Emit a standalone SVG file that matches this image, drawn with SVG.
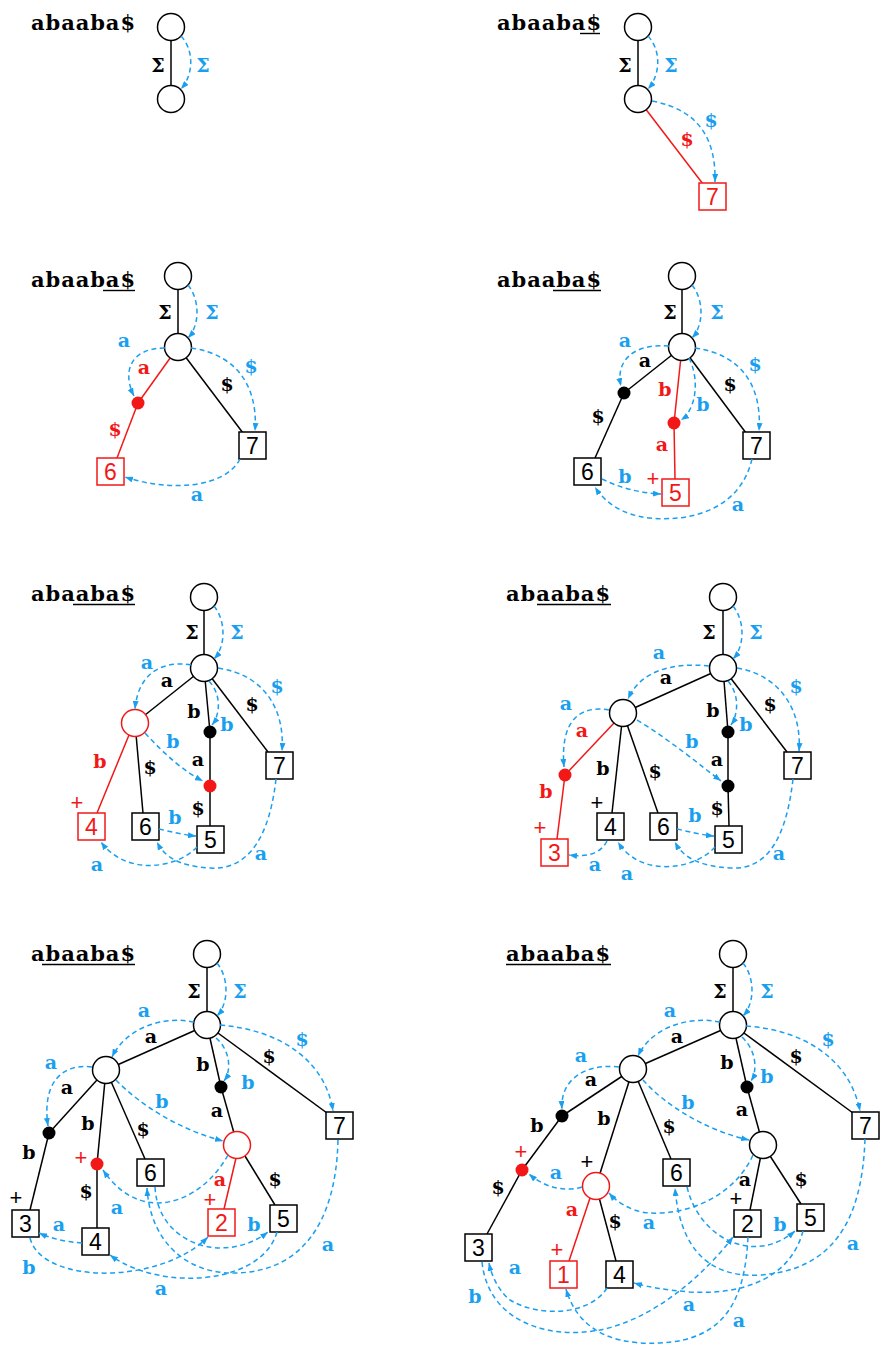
<svg xmlns="http://www.w3.org/2000/svg" width="883" height="1346" viewBox="0 0 883 1346">
<style>
.t{font-family:"DejaVu Serif","Liberation Mono",serif;font-weight:bold;font-size:21px;fill:#000}
.u{stroke:#000;stroke-width:1.4}
.e line{stroke:#000;stroke-width:1.5}
.e line.r{stroke:#f21818}
.n{fill:#fff;stroke:#000;stroke-width:1.5}
.nr{fill:#fff;stroke:#f21818;stroke-width:1.5}
.d{fill:#000}
.dr{fill:#f21818}
.bx{fill:#fff;stroke:#000;stroke-width:1.5}
.bxr{fill:#fff;stroke:#f21818;stroke-width:1.5}
.num{font-family:"Liberation Sans",Arial,sans-serif;font-size:23px;text-anchor:middle;fill:#000}
.numr{font-family:"Liberation Sans",Arial,sans-serif;font-size:23px;text-anchor:middle;fill:#f21818}
.s{fill:none;stroke:#1a9ff0;stroke-width:1.5;stroke-dasharray:5 3.5;marker-end:url(#ah)}
.l{font-family:"DejaVu Serif","Liberation Mono",serif;font-weight:bold;font-size:19px;text-anchor:middle}
.k{fill:#000}.b{fill:#1a9ff0}.r{fill:#f21818}
.pl{font-family:"Liberation Sans",Arial,sans-serif;font-size:22px;text-anchor:middle}
</style>
<defs>
<marker id="ah" markerWidth="8" markerHeight="6" refX="8" refY="3" orient="auto" markerUnits="userSpaceOnUse"><path d="M0,0 L8,3 L0,6 z" fill="#1a9ff0"/></marker>
</defs>

<!-- Panel 1 -->
<g id="p1">
<text class="t" x="31" y="30" textLength="104" lengthAdjust="spacing">abaaba$</text>
<g id="p1-edges" class="e"><line x1="171" y1="27" x2="171" y2="99"/></g>
<g id="p1-root"><circle class="n" cx="171" cy="27" r="13.5"/></g>
<g id="p1-n1"><circle class="n" cx="171" cy="99" r="13.5"/></g>
<g id="p1-links"><path class="s" d="M181,36 C194,50 194,74 181,89"/></g>
<g class="l"><text class="k" x="158" y="72">Σ</text><text class="b" x="203" y="72">Σ</text></g>
</g>

<!-- Panel 2 -->
<g id="p2">
<text class="t" x="497" y="30" textLength="104" lengthAdjust="spacing">abaaba$</text>
<line class="u" x1="580" y1="33.5" x2="600" y2="33.5"/>
<g id="p2-edges" class="e"><line x1="638" y1="27" x2="638" y2="99"/><line class="r" x1="638" y1="99" x2="703" y2="184"/></g>
<g id="p2-root"><circle class="n" cx="638" cy="27" r="13.5"/></g>
<g id="p2-n1"><circle class="n" cx="638" cy="99" r="13.5"/></g>
<g id="p2-leaf7"><rect class="bxr" x="699" y="183" width="27" height="27"/><text class="numr" x="712.5" y="205">7</text></g>
<g id="p2-links"><path class="s" d="M648,36 C661,50 661,74 648,89"/><path class="s" d="M652,101 C700,110 716,140 715,182"/></g>
<g class="l"><text class="k" x="625" y="72">Σ</text><text class="b" x="671" y="72">Σ</text><text class="r" x="687" y="146">$</text><text class="b" x="711" y="127">$</text></g>
</g>

<!-- Panel 3 -->
<g id="p3">
<text class="t" x="31" y="287" textLength="104" lengthAdjust="spacing">abaaba$</text>
<line class="u" x1="103" y1="290.5" x2="135" y2="290.5"/>
<g id="p3-edges" class="e">
<line x1="178" y1="276" x2="178" y2="347"/>
<line class="r" x1="178" y1="347" x2="138" y2="403"/>
<line class="r" x1="138" y1="403" x2="117" y2="458"/>
<line x1="178" y1="347" x2="243" y2="433"/>
</g>
<g id="p3-root"><circle class="n" cx="178" cy="276" r="13.5"/></g>
<g id="p3-n1"><circle class="n" cx="178" cy="347" r="13.5"/></g>
<g id="p3-da"><circle class="dr" cx="138" cy="403" r="6.5"/></g>
<g id="p3-leaf6"><rect class="bxr" x="97" y="458" width="27" height="27"/><text class="numr" x="110.5" y="480">6</text></g>
<g id="p3-leaf7"><rect class="bx" x="239" y="432" width="27" height="27"/><text class="num" x="252.5" y="454">7</text></g>
<g id="p3-links">
<path class="s" d="M188,285 C200,300 200,325 188,338"/>
<path class="s" d="M165,348 C130,348 122,372 134,396"/>
<path class="s" d="M191,348 C240,355 258,390 255,431"/>
<path class="s" d="M240,459 C225,488 170,492 125,477"/>
</g>
<g class="l"><text class="k" x="165" y="319">Σ</text><text class="b" x="212" y="319">Σ</text><text class="r" x="144" y="374">a</text><text class="r" x="115" y="436">$</text><text class="k" x="227" y="391">$</text><text class="b" x="124" y="347">a</text><text class="b" x="251" y="373">$</text><text class="b" x="197" y="501">a</text></g>
</g>

<!-- Panel 4 -->
<g id="p4">
<text class="t" x="497" y="287" textLength="104" lengthAdjust="spacing">abaaba$</text>
<line class="u" x1="553" y1="290.5" x2="601" y2="290.5"/>
<g id="p4-edges" class="e">
<line x1="682" y1="276" x2="682" y2="347"/>
<line x1="682" y1="347" x2="624" y2="393"/>
<line x1="624" y1="393" x2="595" y2="458"/>
<line class="r" x1="682" y1="347" x2="674" y2="423"/>
<line class="r" x1="674" y1="423" x2="675" y2="479"/>
<line x1="682" y1="347" x2="746" y2="433"/>
</g>
<g id="p4-root"><circle class="n" cx="682" cy="276" r="13.5"/></g>
<g id="p4-n1"><circle class="n" cx="682" cy="347" r="13.5"/></g>
<g id="p4-da"><circle class="d" cx="624" cy="393" r="6.5"/></g>
<g id="p4-db"><circle class="dr" cx="674" cy="423" r="6.5"/></g>
<g id="p4-leaf6"><rect class="bx" x="574" y="458" width="27" height="27"/><text class="num" x="587.5" y="480">6</text></g>
<g id="p4-leaf5"><rect class="bxr" x="662" y="479" width="27" height="27"/><text class="numr" x="675.5" y="501">5</text></g>
<g id="p4-leaf7"><rect class="bx" x="743" y="432" width="27" height="27"/><text class="num" x="756.5" y="454">7</text></g>
<g id="p4-links">
<path class="s" d="M692,285 C704,300 704,325 692,338"/>
<path class="s" d="M669,346 C635,343 615,360 621,386"/>
<path class="s" d="M689,358 C700,380 696,410 681,420"/>
<path class="s" d="M695,348 C745,355 762,390 759,431"/>
<path class="s" d="M602,479 C620,488 640,493 661,494"/>
<path class="s" d="M752,459 C740,510 690,522 650,518 C620,515 603,500 595,487"/>
</g>
<g class="l"><text class="k" x="670" y="319">Σ</text><text class="b" x="717" y="319">Σ</text><text class="k" x="645" y="367">a</text><text class="r" x="665" y="396">b</text><text class="b" x="703" y="411">b</text><text class="k" x="598" y="423">$</text><text class="r" x="662" y="451">a</text><text class="k" x="730" y="391">$</text><text class="b" x="755" y="371">$</text><text class="b" x="625" y="347">a</text><text class="b" x="625" y="483">b</text><text class="b" x="738" y="511">a</text></g>
<text class="pl r" x="653" y="486">+</text>
</g>

<!-- Panel 5 -->
<g id="p5">
<text class="t" x="31" y="601" textLength="104" lengthAdjust="spacing">abaaba$</text>
<line class="u" x1="73" y1="604.5" x2="135" y2="604.5"/>
<g id="p5-edges" class="e">
<line x1="204" y1="597" x2="204" y2="668"/>
<line x1="204" y1="668" x2="135" y2="723"/>
<line x1="204" y1="668" x2="210" y2="732"/>
<line x1="210" y1="732" x2="210" y2="786"/>
<line x1="210" y1="786" x2="210" y2="826"/>
<line x1="204" y1="668" x2="268" y2="752"/>
<line class="r" x1="129" y1="735" x2="97" y2="813"/>
<line x1="135" y1="723" x2="143" y2="813"/>
</g>
<g id="p5-root"><circle class="n" cx="204" cy="597" r="13.5"/></g>
<g id="p5-n1"><circle class="n" cx="204" cy="668" r="13.5"/></g>
<g id="p5-na"><circle class="nr" cx="135" cy="723" r="13.5"/></g>
<g id="p5-da"><circle class="d" cx="210" cy="732" r="6.5"/></g>
<g id="p5-db"><circle class="dr" cx="210" cy="786" r="6.5"/></g>
<g id="p5-leaf4"><rect class="bxr" x="78" y="813" width="27" height="27"/><text class="numr" x="91.5" y="835">4</text></g>
<g id="p5-leaf6"><rect class="bx" x="132" y="813" width="27" height="27"/><text class="num" x="145.5" y="835">6</text></g>
<g id="p5-leaf5"><rect class="bx" x="197" y="826" width="27" height="27"/><text class="num" x="210.5" y="848">5</text></g>
<g id="p5-leaf7"><rect class="bx" x="266" y="752" width="27" height="27"/><text class="num" x="279.5" y="774">7</text></g>
<g id="p5-links">
<path class="s" d="M214,606 C226,621 226,646 214,659"/>
<path class="s" d="M191,665 C160,660 138,675 135,709"/>
<path class="s" d="M209,681 C222,695 220,715 212,725"/>
<path class="s" d="M218,668 C265,675 285,710 282,751"/>
<path class="s" d="M145,733 C165,755 185,772 203,781"/>
<path class="s" d="M159,829 C172,832 185,835 196,836"/>
<path class="s" d="M197,847 C175,870 125,875 101,842"/>
<path class="s" d="M276,779 C268,850 240,870 210,868 C180,866 165,858 157,842"/>
</g>
<g class="l"><text class="k" x="192" y="639">Σ</text><text class="b" x="237" y="639">Σ</text><text class="k" x="167" y="687">a</text><text class="k" x="194" y="718">b</text><text class="b" x="227" y="731">b</text><text class="k" x="198" y="766">a</text><text class="k" x="198" y="815">$</text><text class="k" x="252" y="711">$</text><text class="b" x="277" y="693">$</text><text class="r" x="100" y="768">b</text><text class="k" x="150" y="774">$</text><text class="b" x="147" y="669">a</text><text class="b" x="173" y="748">b</text><text class="b" x="175" y="824">b</text><text class="b" x="97" y="871">a</text><text class="b" x="261" y="860">a</text></g>
<text class="pl r" x="77" y="810">+</text>
</g>

<!-- Panel 6 -->
<g id="p6">
<text class="t" x="506" y="601" textLength="104" lengthAdjust="spacing">abaaba$</text>
<line class="u" x1="537" y1="604.5" x2="611" y2="604.5"/>
<g id="p6-edges" class="e">
<line x1="723" y1="597" x2="723" y2="668"/>
<line x1="723" y1="668" x2="623" y2="713"/>
<line x1="723" y1="668" x2="728" y2="732"/>
<line x1="728" y1="732" x2="728" y2="786"/>
<line x1="728" y1="786" x2="729" y2="826"/>
<line x1="723" y1="668" x2="787" y2="752"/>
<line class="r" x1="614" y1="723" x2="565" y2="775"/>
<line class="r" x1="565" y1="775" x2="557" y2="839"/>
<line x1="623" y1="713" x2="612" y2="813"/>
<line x1="623" y1="713" x2="658" y2="813"/>
</g>
<g id="p6-root"><circle class="n" cx="723" cy="597" r="13.5"/></g>
<g id="p6-n1"><circle class="n" cx="723" cy="668" r="13.5"/></g>
<g id="p6-na"><circle class="n" cx="623" cy="713" r="13.5"/></g>
<g id="p6-da"><circle class="d" cx="728" cy="732" r="6.5"/></g>
<g id="p6-db"><circle class="d" cx="728" cy="786" r="6.5"/></g>
<g id="p6-dc"><circle class="dr" cx="565" cy="775" r="6.5"/></g>
<g id="p6-leaf3"><rect class="bxr" x="541" y="839" width="27" height="27"/><text class="numr" x="554.5" y="861">3</text></g>
<g id="p6-leaf4"><rect class="bx" x="597" y="813" width="27" height="27"/><text class="num" x="610.5" y="835">4</text></g>
<g id="p6-leaf6"><rect class="bx" x="650" y="813" width="27" height="27"/><text class="num" x="663.5" y="835">6</text></g>
<g id="p6-leaf5"><rect class="bx" x="715" y="826" width="27" height="27"/><text class="num" x="728.5" y="848">5</text></g>
<g id="p6-leaf7"><rect class="bx" x="784" y="752" width="27" height="27"/><text class="num" x="797.5" y="774">7</text></g>
<g id="p6-links">
<path class="s" d="M733,606 C745,621 745,646 733,659"/>
<path class="s" d="M709,666 C670,662 640,672 628,699"/>
<path class="s" d="M609,710 C580,705 560,720 564,767"/>
<path class="s" d="M728,681 C740,695 738,715 731,725"/>
<path class="s" d="M737,668 C780,675 802,710 799,751"/>
<path class="s" d="M637,720 C670,740 700,765 721,781"/>
<path class="s" d="M677,829 C690,832 703,835 714,836"/>
<path class="s" d="M607,841 C600,855 585,857 569,855"/>
<path class="s" d="M715,847 C695,870 640,878 618,842"/>
<path class="s" d="M793,779 C785,850 760,870 730,868 C700,866 683,858 675,842"/>
</g>
<g class="l"><text class="k" x="709" y="639">Σ</text><text class="b" x="756" y="639">Σ</text><text class="k" x="666" y="684">a</text><text class="k" x="713" y="717">b</text><text class="b" x="746" y="731">b</text><text class="k" x="717" y="766">a</text><text class="k" x="717" y="815">$</text><text class="k" x="770" y="711">$</text><text class="b" x="796" y="693">$</text><text class="r" x="582" y="737">a</text><text class="r" x="546" y="798">b</text><text class="k" x="603" y="775">b</text><text class="k" x="655" y="778">$</text><text class="b" x="659" y="659">a</text><text class="b" x="566" y="710">a</text><text class="b" x="692" y="748">b</text><text class="b" x="695" y="822">b</text><text class="b" x="595" y="871">a</text><text class="b" x="627" y="880">a</text><text class="b" x="779" y="860">a</text></g>
<text class="pl r" x="540" y="835">+</text><text class="pl k" x="597" y="810">+</text>
</g>

<!-- Panel 7 -->
<g id="p7">
<text class="t" x="31" y="961" textLength="104" lengthAdjust="spacing">abaaba$</text>
<line class="u" x1="42" y1="964.5" x2="135" y2="964.5"/>
<g id="p7-edges" class="e">
<line x1="207" y1="954" x2="207" y2="1025"/>
<line x1="207" y1="1025" x2="106" y2="1070"/>
<line x1="207" y1="1025" x2="221" y2="1087"/>
<line x1="221" y1="1087" x2="234" y2="1133"/>
<line x1="207" y1="1025" x2="327" y2="1113"/>
<line x1="106" y1="1070" x2="49" y2="1133"/>
<line x1="49" y1="1133" x2="30" y2="1210"/>
<line x1="106" y1="1070" x2="97" y2="1164"/>
<line x1="97" y1="1164" x2="97" y2="1228"/>
<line x1="106" y1="1070" x2="145" y2="1159"/>
<line class="r" x1="236" y1="1158" x2="224" y2="1209"/>
<line x1="245" y1="1156" x2="275" y2="1205"/>
</g>
<g id="p7-root"><circle class="n" cx="207" cy="954" r="13.5"/></g>
<g id="p7-n1"><circle class="n" cx="207" cy="1025" r="13.5"/></g>
<g id="p7-na"><circle class="n" cx="106" cy="1070" r="13.5"/></g>
<g id="p7-nb"><circle class="nr" cx="237" cy="1145" r="13.5"/></g>
<g id="p7-da"><circle class="d" cx="221" cy="1087" r="6.5"/></g>
<g id="p7-db"><circle class="d" cx="49" cy="1133" r="6.5"/></g>
<g id="p7-dc"><circle class="dr" cx="97" cy="1164" r="6.5"/></g>
<g id="p7-leaf3"><rect class="bx" x="12" y="1210" width="27" height="27"/><text class="num" x="25.5" y="1232">3</text></g>
<g id="p7-leaf4"><rect class="bx" x="82" y="1228" width="27" height="27"/><text class="num" x="95.5" y="1250">4</text></g>
<g id="p7-leaf6"><rect class="bx" x="137" y="1159" width="27" height="27"/><text class="num" x="150.5" y="1181">6</text></g>
<g id="p7-leaf2"><rect class="bxr" x="208" y="1209" width="27" height="27"/><text class="numr" x="221.5" y="1231">2</text></g>
<g id="p7-leaf5"><rect class="bx" x="270" y="1205" width="27" height="27"/><text class="num" x="283.5" y="1227">5</text></g>
<g id="p7-leaf7"><rect class="bx" x="326" y="1112" width="27" height="27"/><text class="num" x="339.5" y="1134">7</text></g>
<g id="p7-links">
<path class="s" d="M217,963 C229,978 229,1003 217,1016"/>
<path class="s" d="M194,1022 C160,1015 125,1030 112,1057"/>
<path class="s" d="M92,1067 C60,1063 42,1085 48,1126"/>
<path class="s" d="M216,1038 C230,1050 232,1070 224,1081"/>
<path class="s" d="M220,1025 C280,1030 325,1060 333,1111"/>
<path class="s" d="M116,1080 C140,1105 180,1130 223,1141"/>
<path class="s" d="M228,1155 C200,1205 140,1225 103,1170"/>
<path class="s" d="M82,1243 C65,1242 50,1238 39,1233"/>
<path class="s" d="M155,1187 C158,1245 225,1265 268,1232"/>
<path class="s" d="M277,1232 C262,1285 160,1292 110,1255"/>
<path class="s" d="M338,1140 C336,1225 300,1272 235,1273 C185,1274 150,1240 147,1188"/>
<path class="s" d="M30,1238 C42,1285 160,1285 208,1237"/>
</g>
<g class="l"><text class="k" x="194" y="998">Σ</text><text class="b" x="240" y="998">Σ</text><text class="k" x="151" y="1043">a</text><text class="k" x="203" y="1071">b</text><text class="b" x="248" y="1089">b</text><text class="k" x="217" y="1117">a</text><text class="k" x="269" y="1063">$</text><text class="b" x="302" y="1046">$</text><text class="k" x="67" y="1094">a</text><text class="k" x="29" y="1159">b</text><text class="k" x="88" y="1130">b</text><text class="k" x="86" y="1198">$</text><text class="k" x="143" y="1136">$</text><text class="r" x="220" y="1186">a</text><text class="k" x="275" y="1186">$</text><text class="b" x="144" y="1017">a</text><text class="b" x="51" y="1069">a</text><text class="b" x="162" y="1108">b</text><text class="b" x="117" y="1214">a</text><text class="b" x="59" y="1231">a</text><text class="b" x="254" y="1231">b</text><text class="b" x="328" y="1251">a</text><text class="b" x="29" y="1274">b</text><text class="b" x="161" y="1295">a</text></g>
<text class="pl k" x="16" y="1205">+</text><text class="pl r" x="81" y="1165">+</text><text class="pl r" x="210" y="1207">+</text>
</g>

<!-- Panel 8 -->
<g id="p8">
<text class="t" x="506" y="961" textLength="104" lengthAdjust="spacing">abaaba$</text>
<line class="u" x1="506" y1="964.5" x2="611" y2="964.5"/>
<g id="p8-edges" class="e">
<line x1="733" y1="954" x2="733" y2="1025"/>
<line x1="733" y1="1025" x2="633" y2="1069"/>
<line x1="733" y1="1025" x2="747" y2="1087"/>
<line x1="747" y1="1087" x2="763" y2="1145"/>
<line x1="733" y1="1025" x2="853" y2="1113"/>
<line x1="633" y1="1069" x2="562" y2="1116"/>
<line x1="562" y1="1116" x2="522" y2="1170"/>
<line x1="522" y1="1170" x2="487" y2="1234"/>
<line x1="633" y1="1069" x2="596" y2="1186"/>
<line class="r" x1="590" y1="1198" x2="569" y2="1261"/>
<line x1="596" y1="1186" x2="616" y2="1261"/>
<line x1="633" y1="1069" x2="671" y2="1159"/>
<line x1="763" y1="1145" x2="750" y2="1210"/>
<line x1="763" y1="1145" x2="801" y2="1204"/>
</g>
<g id="p8-root"><circle class="n" cx="733" cy="954" r="13.5"/></g>
<g id="p8-n1"><circle class="n" cx="733" cy="1025" r="13.5"/></g>
<g id="p8-na"><circle class="n" cx="633" cy="1069" r="13.5"/></g>
<g id="p8-nb"><circle class="n" cx="763" cy="1145" r="13.5"/></g>
<g id="p8-nc"><circle class="nr" cx="596" cy="1186" r="13.5"/></g>
<g id="p8-da"><circle class="d" cx="747" cy="1087" r="6.5"/></g>
<g id="p8-db"><circle class="d" cx="562" cy="1116" r="6.5"/></g>
<g id="p8-dc"><circle class="dr" cx="522" cy="1170" r="6.5"/></g>
<g id="p8-leaf3"><rect class="bx" x="465" y="1234" width="27" height="27"/><text class="num" x="478.5" y="1256">3</text></g>
<g id="p8-leaf1"><rect class="bxr" x="550" y="1261" width="27" height="27"/><text class="numr" x="563.5" y="1283">1</text></g>
<g id="p8-leaf4"><rect class="bx" x="606" y="1261" width="27" height="27"/><text class="num" x="619.5" y="1283">4</text></g>
<g id="p8-leaf6"><rect class="bx" x="663" y="1159" width="27" height="27"/><text class="num" x="676.5" y="1181">6</text></g>
<g id="p8-leaf2"><rect class="bx" x="734" y="1210" width="27" height="27"/><text class="num" x="747.5" y="1232">2</text></g>
<g id="p8-leaf5"><rect class="bx" x="797" y="1204" width="27" height="27"/><text class="num" x="810.5" y="1226">5</text></g>
<g id="p8-leaf7"><rect class="bx" x="852" y="1112" width="27" height="27"/><text class="num" x="865.5" y="1134">7</text></g>
<g id="p8-links">
<path class="s" d="M743,963 C755,978 755,1003 743,1016"/>
<path class="s" d="M720,1022 C685,1015 650,1030 638,1056"/>
<path class="s" d="M619,1067 C585,1063 560,1080 562,1109"/>
<path class="s" d="M742,1037 C756,1050 758,1070 751,1081"/>
<path class="s" d="M746,1026 C805,1030 850,1060 860,1111"/>
<path class="s" d="M643,1080 C665,1105 705,1130 749,1140"/>
<path class="s" d="M582,1187 C565,1192 545,1188 529,1174"/>
<path class="s" d="M753,1155 C735,1195 690,1215 650,1213 C630,1212 615,1200 609,1193"/>
<path class="s" d="M687,1187 C700,1240 755,1265 795,1231"/>
<path class="s" d="M865,1139 C862,1225 830,1270 760,1275 C710,1278 680,1250 675,1188"/>
<path class="s" d="M803,1231 C790,1280 740,1295 690,1292 C665,1290 648,1287 634,1283"/>
<path class="s" d="M607,1288 C590,1315 540,1318 510,1300 C500,1292 492,1278 489,1263"/>
<path class="s" d="M482,1262 C488,1320 545,1340 600,1330 C650,1320 700,1280 733,1237"/>
<path class="s" d="M748,1237 C745,1300 725,1340 660,1343 C600,1346 575,1320 566,1289"/>
</g>
<g class="l"><text class="k" x="720" y="998">Σ</text><text class="b" x="767" y="998">Σ</text><text class="k" x="677" y="1043">a</text><text class="k" x="727" y="1069">b</text><text class="b" x="767" y="1083">b</text><text class="k" x="742" y="1116">a</text><text class="k" x="796" y="1063">$</text><text class="b" x="828" y="1046">$</text><text class="k" x="591" y="1086">a</text><text class="k" x="537" y="1132">b</text><text class="k" x="498" y="1194">$</text><text class="k" x="604" y="1125">b</text><text class="r" x="572" y="1216">a</text><text class="k" x="615" y="1228">$</text><text class="k" x="669" y="1133">$</text><text class="k" x="745" y="1186">a</text><text class="k" x="801" y="1186">$</text><text class="b" x="670" y="1017">a</text><text class="b" x="581" y="1062">a</text><text class="b" x="688" y="1109">b</text><text class="b" x="556" y="1179">a</text><text class="b" x="649" y="1229">a</text><text class="b" x="780" y="1231">b</text><text class="b" x="853" y="1250">a</text><text class="b" x="515" y="1274">a</text><text class="b" x="475" y="1303">b</text><text class="b" x="689" y="1311">a</text><text class="b" x="739" y="1327">a</text></g>
<text class="pl r" x="521" y="1159">+</text><text class="pl k" x="587" y="1169">+</text><text class="pl r" x="557" y="1257">+</text><text class="pl k" x="736" y="1206">+</text>
</g>
</svg>
